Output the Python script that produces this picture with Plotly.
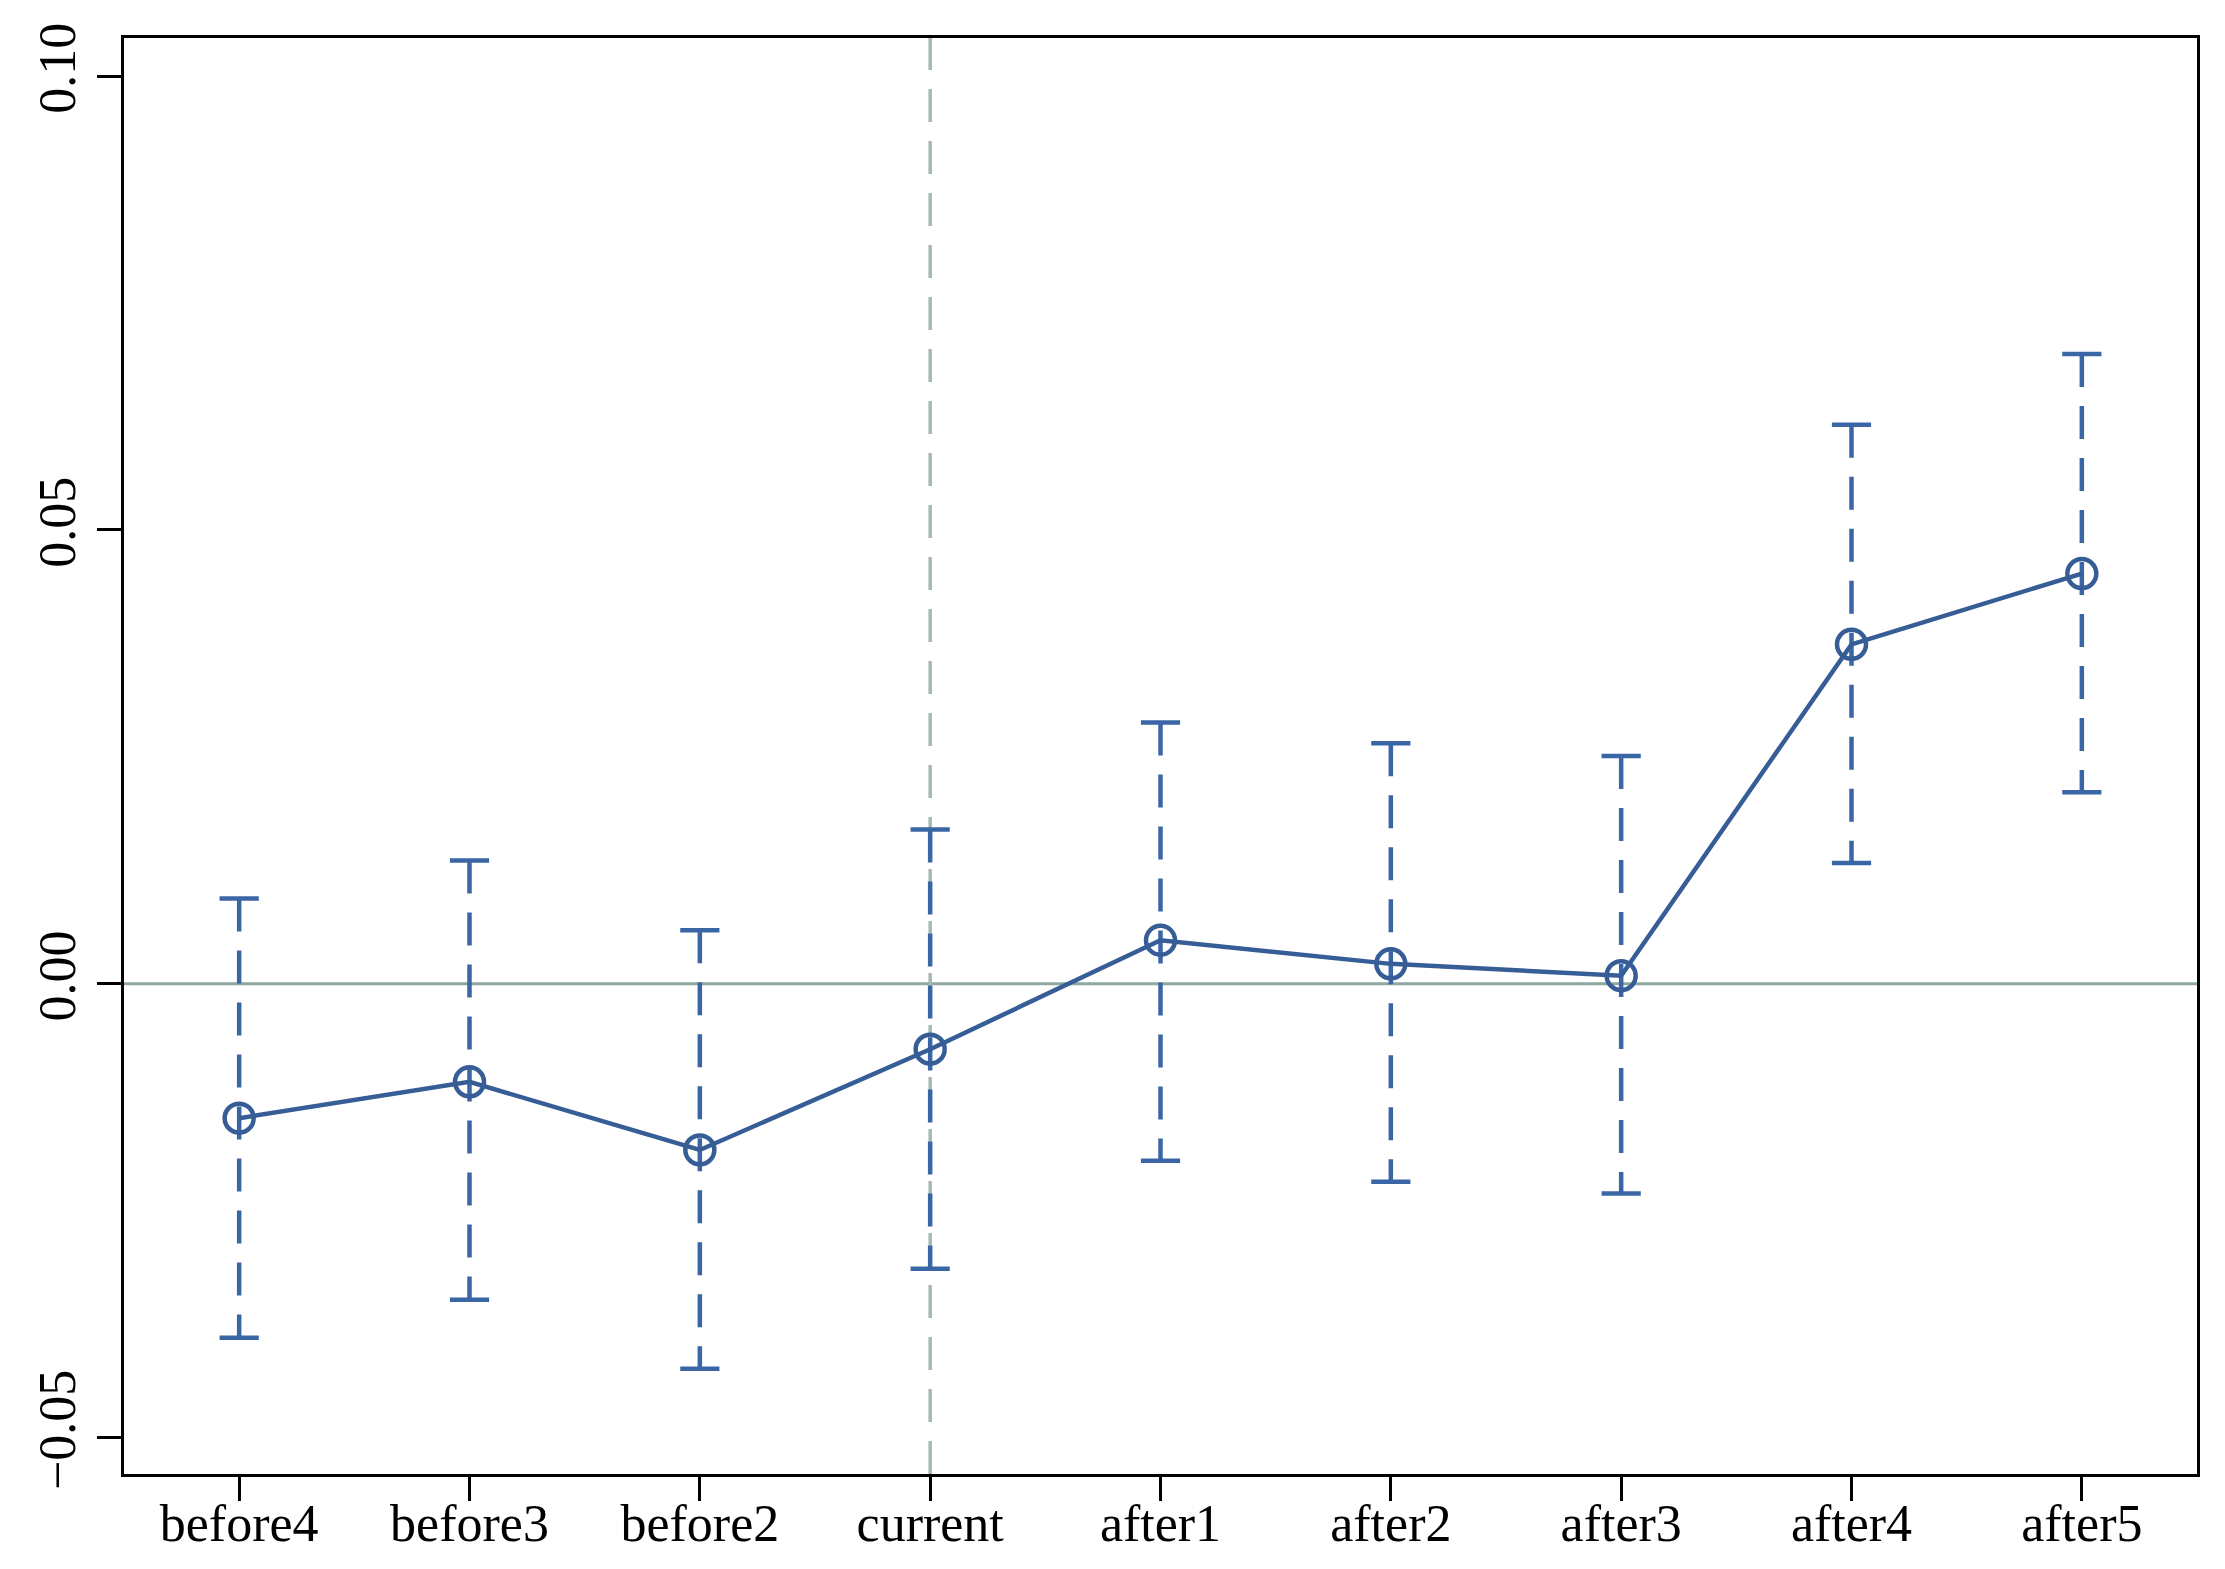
import plotly.graph_objects as go

categories = ["before4", "before3", "before2", "current", "after1",
              "after2", "after3", "after4", "after5"]
estimates = [-0.0148, -0.0108, -0.0183, -0.0072, 0.0048, 0.0022, 0.0009, 0.0374, 0.0452]
ci_upper = [0.0094, 0.0136, 0.0059, 0.0170, 0.0288, 0.0265, 0.0251, 0.0616, 0.0694]
ci_lower = [-0.0390, -0.0348, -0.0424, -0.0314, -0.0195, -0.0218, -0.0231, 0.0133, 0.0211]
ytick_vals = [-0.05, 0.00, 0.05, 0.10]
ytick_text = ["\u22120.05", "0.00", "0.05", "0.10"]
event_category = "current"

xs = list(range(len(categories)))
LINE_COLOR = "#365d96"
ERR_COLOR = "#3a66a6"
FONT = "Liberation Serif"

fig = go.Figure()

# zero line and event line (behind)
fig.add_hline(y=0, line=dict(color="#8da89f", width=3), layer="below")
fig.add_vline(x=categories.index(event_category),
              line=dict(color="#a3b9b4", width=3.5, dash="33px,19px"), layer="below")

# dashed error bars
ex, ey = [], []
for x, hi, lo in zip(xs, ci_upper, ci_lower):
    ex += [x, x, None]
    ey += [hi, lo, None]
fig.add_trace(go.Scatter(x=ex, y=ey, mode="lines",
                         line=dict(color=ERR_COLOR, width=4.5, dash="33px,19px"),
                         hoverinfo="skip", showlegend=False))
# caps
fig.add_trace(go.Scatter(x=xs + xs, y=ci_upper + ci_lower, mode="markers",
                         marker=dict(symbol="line-ew", size=28,
                                     line=dict(color=ERR_COLOR, width=4.5)),
                         showlegend=False))
# point estimates
fig.add_trace(go.Scatter(x=xs, y=estimates, mode="lines+markers",
                         line=dict(color=LINE_COLOR, width=4.5),
                         marker=dict(symbol="circle-open", size=29,
                                     line=dict(color=LINE_COLOR, width=4.5)),
                         showlegend=False))

fig.update_layout(
    width=2209, height=1553, autosize=False,
    margin=dict(l=116, r=20, t=30, b=87),
    paper_bgcolor="white", plot_bgcolor="white",
    font=dict(family=FONT, color="black"),
)
fig.update_xaxes(
    range=[-0.5, 8.5], tickvals=xs, ticktext=categories,
    showgrid=False, zeroline=False, automargin=False,
    showline=True, linecolor="black", linewidth=3, mirror=True,
    ticks="outside", ticklen=24, tickwidth=3, tickcolor="black",
    ticklabelstandoff=-22,
    tickfont=dict(size=52, family=FONT, color="black"),
)
fig.update_yaxes(
    range=[-0.054, 0.1042], tickvals=ytick_vals, ticktext=ytick_text,
    showgrid=False, zeroline=False, automargin=False,
    showline=True, linecolor="black", linewidth=3, mirror=True,
    ticks="outside", ticklen=24, tickwidth=3, tickcolor="black",
    tickangle=-90, ticklabelstandoff=1,
    tickfont=dict(size=52, family=FONT, color="black"),
)

fig.write_html("out.html")
